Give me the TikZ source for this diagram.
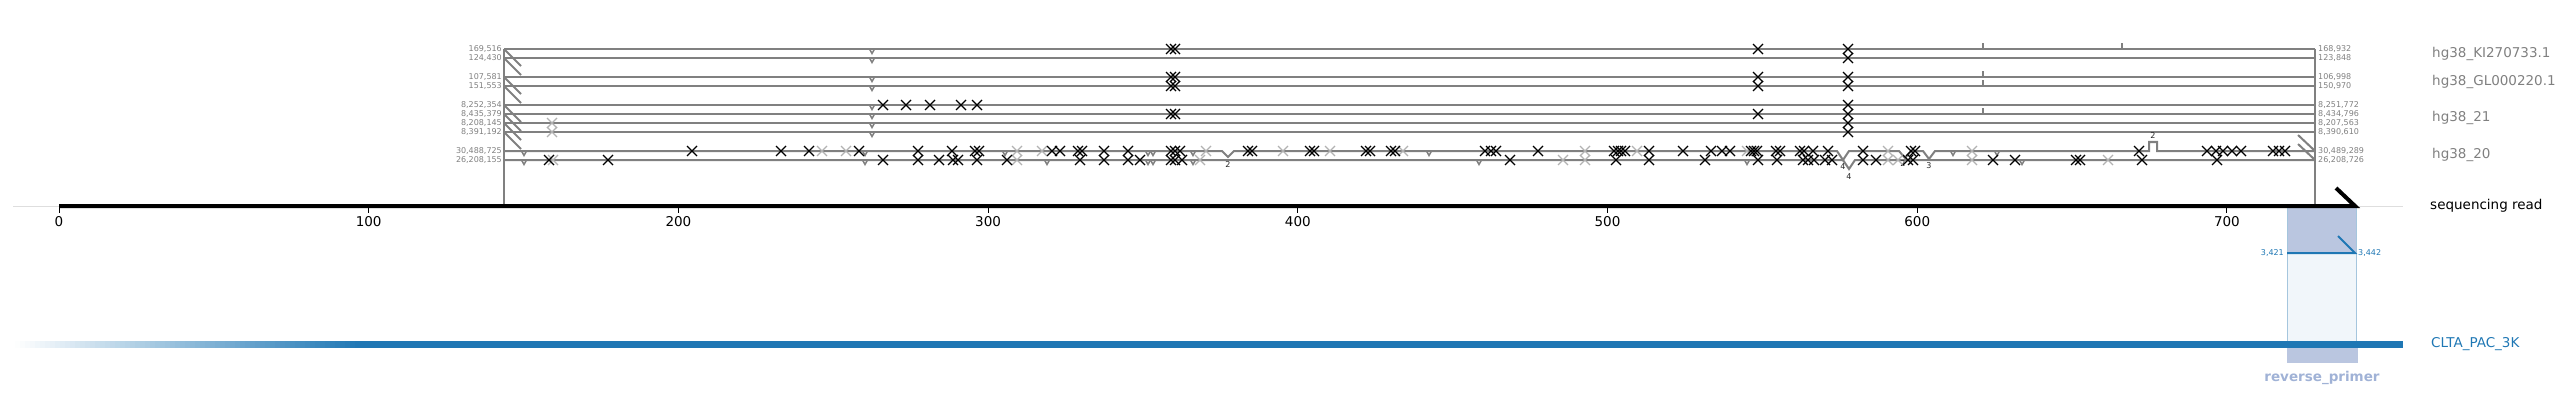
\documentclass[tikz,border=0pt]{standalone}
\usepackage{fontspec}
\setmainfont{DejaVu Sans}
\definecolor{rowgray}{RGB}{128,128,128}
\definecolor{xgray}{RGB}{178,178,178}
\definecolor{cltablue}{RGB}{31,119,180}
\definecolor{rpdark}{RGB}{186,198,224}
\definecolor{rplight}{RGB}{241,246,250}
\definecolor{rpborder}{RGB}{165,198,222}
\definecolor{rptext}{RGB}{160,178,214}
\definecolor{extgray}{RGB}{222,222,222}
\tikzset{
  rowline/.style={draw=rowgray, line width=2pt},
  vline/.style={draw=rowgray, line width=1.5pt},
  xm/.style={draw=black, line width=1.2pt},
  xg/.style={draw=xgray, line width=1.2pt},
  smallv/.style={draw=rowgray, line width=1.5pt},
  big/.style={font=\fontsize{13.5}{16}\selectfont, inner sep=0pt},
  small/.style={font=\fontsize{8}{9}\selectfont, inner sep=0pt, text=rowgray},
  tiny/.style={font=\fontsize{8}{9}\selectfont, inner sep=0pt, text=black!85},
}
\begin{document}
\begin{tikzpicture}[x=1pt,y=-1pt]
\useasboundingbox (0,0) rectangle (2566,409);
% reverse primer boxes
\fill[rpdark] (2287,206) rectangle (2356,253);
\draw[rpborder, line width=0.8pt] (2287,206) -- (2287,253) (2356,206) -- (2356,253);
\filldraw[fill=rplight, draw=rpborder, line width=0.8pt] (2287,253) rectangle (2356,342);
\fill[rpdark] (2287,348) rectangle (2358,363);
\node[big, font=\fontsize{13.5}{16}\selectfont\bfseries, text=rptext] (rp) at (2322,378) {reverse\_primer};
% vertical borders
\draw[vline] (504,49) -- (504,206);
\draw[vline] (2315,49) -- (2315,206);
% alignment rows 1-8
\foreach \y in {49,58,77,86,105,114,123,132} {
  \draw[rowline] (504,\y) -- (2315,\y);
  \draw[rowline] (504,\y) -- ++(17,17);
  \draw[smallv] (872,\y) +(-2.5,0) -- +(0,4.5) -- +(2.5,0);
}
% row 9 with notches
\draw[rowline, line join=miter] (504,151) -- (1222,151) -- (1228,157) -- (1234,151) -- (1837,151) -- (1843,160) -- (1849,151) -- (1899,151) -- (1905,158) -- (1911,151) -- (1923,151) -- (1929,159) -- (1935,151) -- (2149,151) -- (2149,142) -- (2157,142) -- (2157,151) -- (2315,151);
\draw[rowline] (2315,151) -- (2298,135);
% row 10 with notch
\draw[rowline, line join=miter] (504,160) -- (1843,160) -- (1849,169) -- (1855,160) -- (2315,160);
\draw[rowline] (2315,160) -- (2298,144);
% small v markers
\foreach \x in {524,865,1005,1148,1153,1193,1429,1953,1997} \draw[smallv] (\x,151) +(-2.5,0) -- +(0,4.5) -- +(2.5,0);
\foreach \x in {524,865,1047,1148,1153,1193,1479,1747,2022} \draw[smallv] (\x,160) +(-2.5,0) -- +(0,4.5) -- +(2.5,0);
% small ticks
\foreach \y in {49,77,86,114} \draw[smallv] (1983,\y) -- +(0,-6);
\draw[smallv] (2122,49) -- +(0,-6);
% notch labels
\node[tiny] (n1) at (1228,165) {2};
\node[tiny] (n2) at (1843,167) {4};
\node[tiny] (n3) at (1903,164) {2};
\node[tiny] (n4) at (1929,166) {3};
\node[tiny] (n5) at (1849,177) {4};
\node[tiny] (n6) at (2153,136) {2};
% X marks rows 1-8
\foreach \x in {1171,1175,1758,1848} \draw[xm] (\x,49) +(-5,-5) -- +(5,5) +(-5,5) -- +(5,-5);
\foreach \x in {1848} \draw[xm] (\x,58) +(-5,-5) -- +(5,5) +(-5,5) -- +(5,-5);
\foreach \x in {1171,1175,1758,1848} \draw[xm] (\x,77) +(-5,-5) -- +(5,5) +(-5,5) -- +(5,-5);
\foreach \x in {1171,1175,1758,1848} \draw[xm] (\x,86) +(-5,-5) -- +(5,5) +(-5,5) -- +(5,-5);
\foreach \x in {883,906,930,961,977,1848} \draw[xm] (\x,105) +(-5,-5) -- +(5,5) +(-5,5) -- +(5,-5);
\foreach \x in {1171,1175,1758,1848} \draw[xm] (\x,114) +(-5,-5) -- +(5,5) +(-5,5) -- +(5,-5);
\foreach \x in {1848} \draw[xm] (\x,123) +(-5,-5) -- +(5,5) +(-5,5) -- +(5,-5);
\foreach \x in {1848} \draw[xm] (\x,132) +(-5,-5) -- +(5,5) +(-5,5) -- +(5,-5);
\foreach \y in {123,132} \draw[xg] (552,\y) +(-5,-5) -- +(5,5) +(-5,5) -- +(5,-5);
% X marks row 9
\foreach \x in {822,846,1017,1042,1206,1283,1330,1403,1585,1637,1747,1888,1972} \draw[xg] (\x,151) +(-5,-5) -- +(5,5) +(-5,5) -- +(5,-5);
\foreach \x in {692,781,809,859,918,952,975,979,1052,1060,1078,1082,1104,1128,1171,1175,1180,1248,1252,1310,1314,1366,1370,1391,1395,1485,1491,1496,1538,1614,1618,1621,1625,1649,1683,1711,1722,1730,1751,1754,1757,1776,1780,1800,1804,1813,1828,1863,1911,1915,2139,2207,2216,2223,2232,2241,2273,2279,2285} \draw[xm] (\x,151) +(-5,-5) -- +(5,5) +(-5,5) -- +(5,-5);
% X marks row 10
\foreach \x in {553,1017,1200,1563,1585,1888,1898,1972,2108} \draw[xg] (\x,160) +(-5,-5) -- +(5,5) +(-5,5) -- +(5,-5);
\foreach \x in {549,608,883,918,939,953,958,977,1007,1080,1104,1128,1140,1171,1175,1182,1510,1616,1649,1705,1758,1777,1803,1808,1814,1825,1832,1863,1876,1908,1913,1993,2015,2076,2080,2142,2217} \draw[xm] (\x,160) +(-5,-5) -- +(5,5) +(-5,5) -- +(5,-5);
% row labels
\foreach \y/\l/\r [count=\i] in {49/169{,}516/168{,}932, 58/124{,}430/123{,}848, 77/107{,}581/106{,}998, 86/151{,}553/150{,}970, 105/8{,}252{,}354/8{,}251{,}772, 114/8{,}435{,}379/8{,}434{,}796, 123/8{,}208{,}145/8{,}207{,}563, 132/8{,}391{,}192/8{,}390{,}610, 151/30{,}488{,}725/30{,}489{,}289, 160/26{,}208{,}155/26{,}208{,}726} {
  \node[small, anchor=east] (L\i) at (502,\y) {\l};
  \node[small, anchor=west] (R\i) at (2318,\y) {\r};
}
% chromosome labels
\node[big, anchor=west, text=rowgray] (c1) at (2432,54) {hg38\_KI270733.1};
\node[big, anchor=west, text=rowgray] (c2) at (2432,82) {hg38\_GL000220.1};
\node[big, anchor=west, text=rowgray] (c3) at (2432,118) {hg38\_21};
\node[big, anchor=west, text=rowgray] (c4) at (2432,155) {hg38\_20};
% sequencing read axis
\draw[extgray, line width=1pt] (13,206) -- (59,206);
\draw[extgray, line width=1pt] (2355,206) -- (2403,206);
\draw[black, line width=4pt, line join=miter] (59,206) -- (2355,206) -- (2336,188);
\foreach \v in {0,...,7} {
  \draw[black, line width=1pt] ({59+\v*309.7},208) -- ++(0,5);
  \node[big, anchor=north] (t\v) at ({59+\v*309.7},216) {\the\numexpr\v*100\relax};
}
\node[big, anchor=west] (sr) at (2430,206) {sequencing read};
% primer alignment
\draw[cltablue, line width=2pt, line join=miter] (2287,253) -- (2355,253) -- (2338,236);
\node[small, text=cltablue, anchor=east] (p1) at (2284,253) {3,421};
\node[small, text=cltablue, anchor=west] (p2) at (2358,253) {3,442};
% CLTA_PAC_3K with stepwise fade-in
\foreach \i in {0,...,68} {
  \pgfmathsetmacro{\pct}{100*(\i+0.5)/69}
  \fill[cltablue!\pct!white] ({15+5*\i},340.5) rectangle ({15+5*\i+5.4},347.5);
}
\fill[cltablue] (360,340.5) rectangle (2403,347.5);
\node[big, anchor=west, text=cltablue] (clta) at (2431,344) {CLTA\_PAC\_3K};
\end{tikzpicture}
\end{document}
